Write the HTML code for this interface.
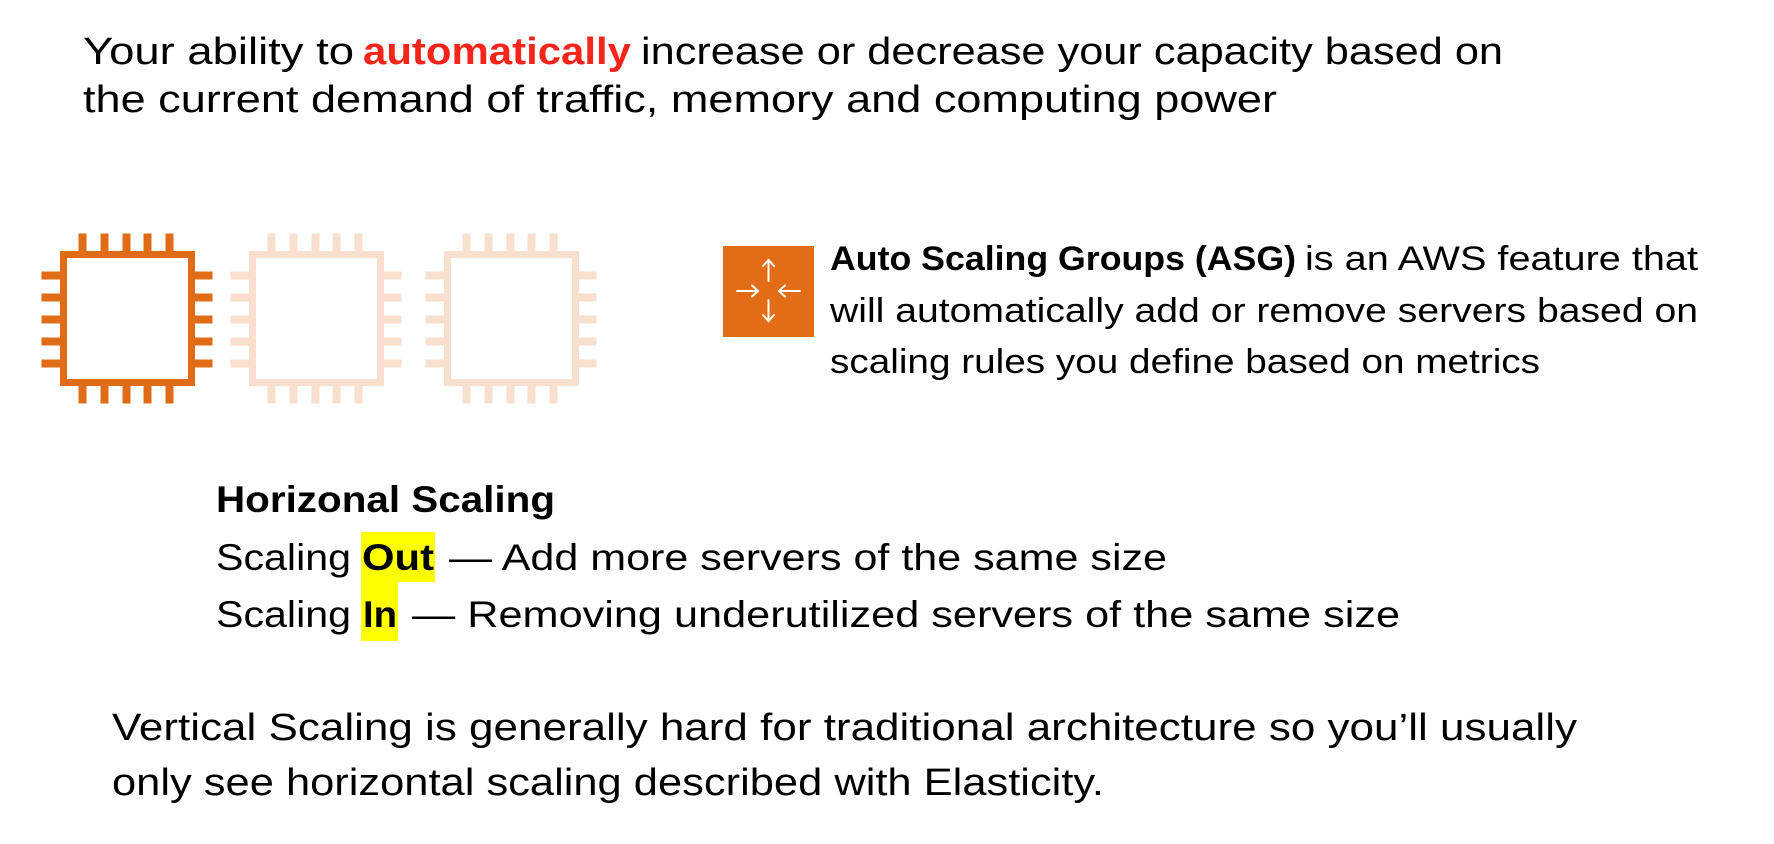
<!DOCTYPE html>
<html><head><meta charset="utf-8"><style>
html,body{margin:0;padding:0;background:#fff;}
svg{display:block}
text{font-family:"Liberation Sans",sans-serif;fill:#000;}
</style></head><body>
<svg width="1774" height="844" viewBox="0 0 1774 844" xmlns="http://www.w3.org/2000/svg">
<rect width="1774" height="844" fill="#fff"/>
<g font-size="38">
<text x="83" y="64" textLength="271" lengthAdjust="spacingAndGlyphs">Your ability to</text>
<text x="363" y="64" textLength="268" lengthAdjust="spacingAndGlyphs" font-weight="bold" style="fill:#f5251b">automatically</text>
<text x="641" y="64" textLength="862" lengthAdjust="spacingAndGlyphs">increase or decrease your capacity based on</text>
<text x="83" y="112" textLength="1194" lengthAdjust="spacingAndGlyphs">the current demand of traffic, memory and computing power</text>
</g>
<defs>
<g id="chip">
<rect x="3.5" y="3.5" width="128" height="128" fill="none" stroke-width="7"/>
<g>
<rect x="19" y="-17" width="7" height="17"/><rect x="41" y="-17" width="7" height="17"/><rect x="63" y="-17" width="7" height="17"/><rect x="84" y="-17" width="7" height="17"/><rect x="106" y="-17" width="7" height="17"/>
<rect x="19" y="135" width="7" height="17"/><rect x="41" y="135" width="7" height="17"/><rect x="63" y="135" width="7" height="17"/><rect x="84" y="135" width="7" height="17"/><rect x="106" y="135" width="7" height="17"/>
<rect x="-18" y="21" width="18" height="7"/><rect x="-18" y="43" width="18" height="7"/><rect x="-18" y="65" width="18" height="7"/><rect x="-18" y="87" width="18" height="7"/><rect x="-18" y="109" width="18" height="7"/>
<rect x="135" y="21" width="17" height="7"/><rect x="135" y="43" width="17" height="7"/><rect x="135" y="65" width="17" height="7"/><rect x="135" y="87" width="17" height="7"/><rect x="135" y="109" width="17" height="7"/>
</g>
</g>
</defs>
<use href="#chip" x="60" y="251" fill="#e06c17" stroke="#e06c17"/>
<use href="#chip" x="249" y="251" fill="#f9dfcd" stroke="#f9dfcd"/>
<use href="#chip" x="444" y="251" fill="#f9dfcd" stroke="#f9dfcd"/>
<rect x="723" y="246" width="91" height="91" fill="#e36c16"/>
<g stroke="#fff" stroke-width="2" fill="none" stroke-linecap="round">
<line x1="768.5" y1="260" x2="768.5" y2="281"/><polyline points="763,266 768.5,260 774,266"/>
<line x1="768.5" y1="300" x2="768.5" y2="321"/><polyline points="763,315 768.5,321 774,315"/>
<line x1="737" y1="291" x2="758" y2="291"/><polyline points="752,285.5 758,291 752,296.5"/>
<line x1="779" y1="291" x2="800" y2="291"/><polyline points="785,285.5 779,291 785,296.5"/>
</g>
<g font-size="34">
<text x="830" y="270" textLength="466" lengthAdjust="spacingAndGlyphs" font-weight="bold">Auto Scaling Groups (ASG)</text>
<text x="1305" y="270" textLength="393" lengthAdjust="spacingAndGlyphs">is an AWS feature that</text>
<text x="830" y="322" textLength="868" lengthAdjust="spacingAndGlyphs">will automatically add or remove servers based on</text>
<text x="830" y="373" textLength="710" lengthAdjust="spacingAndGlyphs">scaling rules you define based on metrics</text>
</g>
<rect x="361" y="532" width="74" height="50" fill="#ffff00"/>
<rect x="361" y="582" width="37" height="59" fill="#ffff00"/>
<g font-size="37">
<text x="216" y="512" textLength="339" lengthAdjust="spacingAndGlyphs" font-weight="bold">Horizonal Scaling</text>
<text x="216" y="570" textLength="135" lengthAdjust="spacingAndGlyphs">Scaling</text>
<text x="362" y="570" textLength="72" lengthAdjust="spacingAndGlyphs" font-weight="bold">Out</text>
<text x="449" y="570" textLength="718" lengthAdjust="spacingAndGlyphs">— Add more servers of the same size</text>
<text x="216" y="627" textLength="135" lengthAdjust="spacingAndGlyphs">Scaling</text>
<text x="363" y="627" textLength="34" lengthAdjust="spacingAndGlyphs" font-weight="bold">In</text>
<text x="412" y="627" textLength="988" lengthAdjust="spacingAndGlyphs">— Removing underutilized servers of the same size</text>
</g>
<g font-size="38">
<text x="112" y="740" textLength="1465" lengthAdjust="spacingAndGlyphs">Vertical Scaling is generally hard for traditional architecture so you’ll usually</text>
<text x="112" y="795" textLength="992" lengthAdjust="spacingAndGlyphs">only see horizontal scaling described with Elasticity.</text>
</g>
</svg>
</body></html>
